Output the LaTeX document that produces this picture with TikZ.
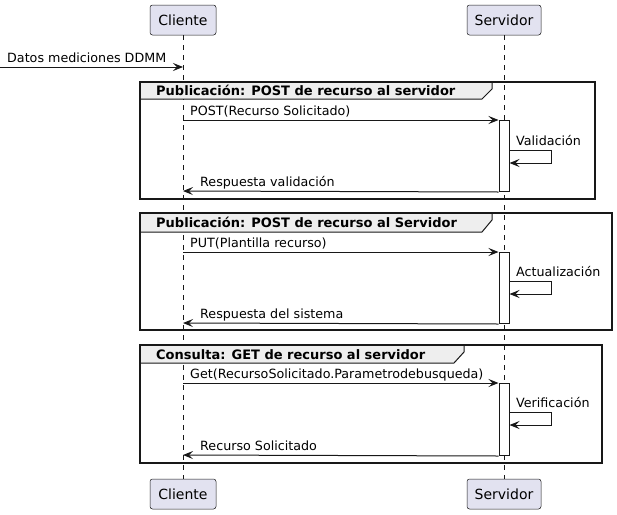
\documentclass[tikz,border=0pt]{standalone}
\usepackage{fontspec}
\setmainfont{DejaVu Sans}
\usetikzlibrary{arrows.meta}
\definecolor{ink}{HTML}{181818}
\definecolor{partfill}{HTML}{E2E2F0}
\definecolor{tabfill}{HTML}{EEEEEE}
\tikzset{
  part/.style={draw=ink, fill=partfill, rounded corners=2.5pt, line width=0.5pt, minimum height=30pt, inner sep=0pt, font=\fontsize{14}{16}\selectfont},
  lifeline/.style={draw=ink, line width=0.5pt, dash pattern=on 5pt off 5pt},
  msg/.style={draw=ink, line width=1pt, -{Stealth[length=10pt,width=8pt,inset=4pt]}},
  lbl/.style={anchor=base west, inner sep=0pt, font=\fontsize{12.7}{15}\selectfont},
  grp/.style={draw=ink, line width=1.5pt},
  tab/.style={draw=ink, fill=tabfill, line width=1pt},
  grplbl/.style={anchor=base west, inner sep=0pt, font=\bfseries\fontsize{13}{15}\selectfont},
  act/.style={draw=ink, fill=white, line width=1pt, minimum width=10pt, inner sep=0pt, anchor=north},
}
\begin{document}
\begin{tikzpicture}[x=1pt,y=-1pt]
\useasboundingbox (0,0) rectangle (617,514);
% participants
\node[part, minimum width=66pt] (clT) at (183,20) {Cliente};
\node[part, minimum width=74pt] (svT) at (504,20) {Servidor};
\node[part, minimum width=66pt] (clB) at (183,494) {Cliente};
\node[part, minimum width=74pt] (svB) at (504,494) {Servidor};
\draw[lifeline] (clT.south) -- (clB.north);
\draw[lifeline] (svT.south) -- (svB.north);
% incoming message
\coordinate (in0) at (0,67);
\coordinate (cl0) at (183,67);
\draw[msg] (in0) -- (cl0);
\node[lbl] (l0) at (7,62) {Datos mediciones DDMM};
% ---------- group 1
\draw[tab] (140,82) -- (492,82) -- (492,89) -- (482,99) -- (140,99) -- cycle;
\draw[grp] (140,82) rectangle (595,199);
\node[grplbl] (g1) at (156,95) {Publicación: POST de recurso al servidor};
\node[act, minimum height=71pt] (a1) at (504,120) {};
\coordinate (m1s) at (183,120);
\draw[msg] (m1s) -- (a1.north west);
\node[lbl] (l1) at (190,115) {POST(Recurso Solicitado)};
\coordinate (s1a) at (a1.east |- 0,150);
\coordinate (s1b) at (551,150);
\coordinate (s1c) at (551,163);
\coordinate (s1d) at (a1.east |- 0,163);
\draw[msg] (s1a) -- (s1b) -- (s1c) -- (s1d);
\node[lbl] (v1) at (516,145) {Validación};
\coordinate (r1e) at (183,191);
\draw[msg] (a1.south west) -- (r1e);
\node[lbl] (rl1) at (200,186) {Respuesta validación};
% ---------- group 2
\draw[tab] (140,213) -- (492,213) -- (492,220) -- (482,232) -- (140,232) -- cycle;
\draw[grp] (140,213) rectangle (612,330);
\node[grplbl] (g2) at (156,227) {Publicación: POST de recurso al Servidor};
\node[act, minimum height=71pt] (a2) at (504,252) {};
\coordinate (m2s) at (183,252);
\draw[msg] (m2s) -- (a2.north west);
\node[lbl] (l2) at (190,247) {PUT(Plantilla recurso)};
\coordinate (s2a) at (a2.east |- 0,281);
\coordinate (s2b) at (551,281);
\coordinate (s2c) at (551,294);
\coordinate (s2d) at (a2.east |- 0,294);
\draw[msg] (s2a) -- (s2b) -- (s2c) -- (s2d);
\node[lbl] (v2) at (516,276) {Actualización};
\coordinate (r2e) at (183,323);
\draw[msg] (a2.south west) -- (r2e);
\node[lbl] (rl2) at (200,318) {Respuesta del sistema};
% ---------- group 3
\draw[tab] (140,345) -- (464,345) -- (464,352) -- (454,363) -- (140,363) -- cycle;
\draw[grp] (140,345) rectangle (602,463);
\node[grplbl] (g3) at (156,359) {Consulta: GET de recurso al servidor};
\node[act, minimum height=72pt] (a3) at (504,383) {};
\coordinate (m3s) at (183,383);
\draw[msg] (m3s) -- (a3.north west);
\node[lbl] (l3) at (190,378) {Get(RecursoSolicitado.Parametrodebusqueda)};
\coordinate (s3a) at (a3.east |- 0,412);
\coordinate (s3b) at (551,412);
\coordinate (s3c) at (551,425);
\coordinate (s3d) at (a3.east |- 0,425);
\draw[msg] (s3a) -- (s3b) -- (s3c) -- (s3d);
\node[lbl] (v3) at (516,407) {Verificación};
\coordinate (r3e) at (183,455);
\draw[msg] (a3.south west) -- (r3e);
\node[lbl] (rl3) at (200,450) {Recurso Solicitado};
\end{tikzpicture}
\end{document}
